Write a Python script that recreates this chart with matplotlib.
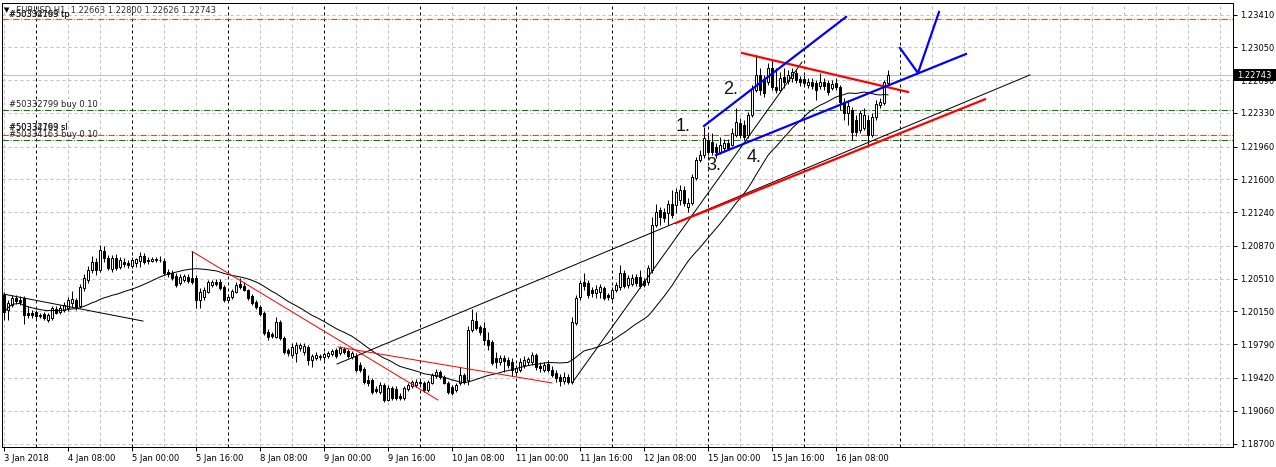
import numpy as np
import pandas as pd
import matplotlib
matplotlib.use('Agg')
import matplotlib.pyplot as plt
from matplotlib.patches import Rectangle

# EURUSD H1 bars, bar 0 = 3 Jan 2018 16:00
opens = [1.2033, 1.2017, 1.2022, 1.2030, 1.2028, 1.2030, 1.2013, 1.2013, 1.2014, 1.2011,
         1.2012, 1.2006, 1.2008, 1.2018, 1.2014, 1.2017, 1.2019, 1.2024, 1.2028, 1.2021,
         1.2041, 1.2050, 1.2060, 1.2069, 1.2060, 1.2081, 1.2074, 1.2062, 1.2074, 1.2064,
         1.2069, 1.2068, 1.2065, 1.2068, 1.2070, 1.2076, 1.2071, 1.2070, 1.2073, 1.2071,
         1.2070, 1.2058, 1.2057, 1.2054, 1.2046, 1.2050, 1.2053, 1.2052, 1.2052, 1.2028,
         1.2031, 1.2036, 1.2044, 1.2047, 1.2047, 1.2042, 1.2028, 1.2031, 1.2036, 1.2045,
         1.2043, 1.2039, 1.2032, 1.2025, 1.2020, 1.2013, 1.1992, 1.1990, 1.1987, 1.2003,
         1.1986, 1.1973, 1.1967, 1.1969, 1.1975, 1.1970, 1.1976, 1.1962, 1.1964, 1.1965,
         1.1965, 1.1966, 1.1968, 1.1973, 1.1969, 1.1974, 1.1972, 1.1965, 1.1966, 1.1956,
         1.1952, 1.1940, 1.1940, 1.1930, 1.1927, 1.1934, 1.1918, 1.1931, 1.1930, 1.1922,
         1.1920, 1.1930, 1.1933, 1.1934, 1.1936, 1.1937, 1.1929, 1.1937, 1.1944, 1.1949,
         1.1943, 1.1937, 1.1932, 1.1929, 1.1936, 1.1945, 1.1940, 1.1995, 1.2005, 1.1998,
         1.1997, 1.1984, 1.1981, 1.1964, 1.1960, 1.1964, 1.1962, 1.1960, 1.1949, 1.1951,
         1.1956, 1.1960, 1.1960, 1.1967, 1.1955, 1.1951, 1.1957, 1.1951, 1.1947, 1.1943,
         1.1939, 1.1943, 1.1938, 1.2002, 1.2031, 1.2047, 1.2046, 1.2039, 1.2035, 1.2036,
         1.2041, 1.2033, 1.2030, 1.2039, 1.2042, 1.2057, 1.2044, 1.2045, 1.2053, 1.2053,
         1.2048, 1.2047, 1.2061, 1.2110, 1.2126, 1.2124, 1.2123, 1.2133, 1.2132, 1.2137,
         1.2148, 1.2130, 1.2134, 1.2162, 1.2181, 1.2187, 1.2203, 1.2201, 1.2196, 1.2190,
         1.2194, 1.2200, 1.2198, 1.2209, 1.2222, 1.2220, 1.2209, 1.2231, 1.2258, 1.2275,
         1.2269, 1.2267, 1.2282, 1.2262, 1.2258, 1.2272, 1.2268, 1.2271, 1.2277, 1.2270,
         1.2270, 1.2264, 1.2267, 1.2266, 1.2263, 1.2267, 1.2266, 1.2260, 1.2266, 1.2261,
         1.2245, 1.2233, 1.2236, 1.2225, 1.2214, 1.2217, 1.2225, 1.2209, 1.2229, 1.2242,
         1.2244, 1.22663]
highs = [1.2036, 1.2028, 1.2033, 1.2033, 1.2032, 1.2032, 1.2021, 1.2017, 1.2017, 1.2013,
         1.2014, 1.2013, 1.2021, 1.2021, 1.2022, 1.2025, 1.2031, 1.2038, 1.2030, 1.2045,
         1.2056, 1.2065, 1.2076, 1.2074, 1.2088, 1.2087, 1.2077, 1.2077, 1.2078, 1.2075,
         1.2074, 1.2071, 1.2075, 1.2074, 1.2080, 1.2079, 1.2075, 1.2075, 1.2075, 1.2076,
         1.2074, 1.2062, 1.2061, 1.2057, 1.2056, 1.2056, 1.2056, 1.2081, 1.2055, 1.2041,
         1.2042, 1.2050, 1.2050, 1.2051, 1.2051, 1.2044, 1.2034, 1.2040, 1.2047, 1.2052,
         1.2047, 1.2040, 1.2034, 1.2028, 1.2022, 1.2015, 1.1996, 1.1993, 1.2009, 1.2006,
         1.1988, 1.1975, 1.1980, 1.1982, 1.1980, 1.1980, 1.1978, 1.1968, 1.1971, 1.1968,
         1.1971, 1.1972, 1.1974, 1.1975, 1.1977, 1.1976, 1.1974, 1.1972, 1.1969, 1.1960,
         1.1954, 1.1945, 1.1942, 1.1933, 1.1938, 1.1937, 1.1934, 1.1933, 1.1933, 1.1926,
         1.1933, 1.1936, 1.1940, 1.1941, 1.1941, 1.1939, 1.1940, 1.1947, 1.1952, 1.1951,
         1.1945, 1.1939, 1.1934, 1.1936, 1.1954, 1.1947, 1.1999, 1.2018, 1.2014, 1.2000,
         1.2003, 1.1993, 1.1984, 1.1971, 1.1967, 1.1967, 1.1965, 1.1964, 1.1956, 1.1964,
         1.1966, 1.1965, 1.1971, 1.1969, 1.1960, 1.1960, 1.1962, 1.1955, 1.1951, 1.1946,
         1.1948, 1.1946, 1.2009, 1.2033, 1.2050, 1.2057, 1.2050, 1.2042, 1.2044, 1.2045,
         1.2043, 1.2035, 1.2042, 1.2047, 1.2066, 1.2061, 1.2055, 1.2056, 1.2056, 1.2061,
         1.2052, 1.2066, 1.2119, 1.2133, 1.2130, 1.2129, 1.2137, 1.2148, 1.2151, 1.2154,
         1.2153, 1.2140, 1.2166, 1.2185, 1.2192, 1.2218, 1.2209, 1.2211, 1.2200, 1.2207,
         1.2204, 1.2204, 1.2216, 1.2238, 1.2227, 1.2225, 1.2234, 1.2264, 1.2297, 1.2282,
         1.2275, 1.2288, 1.2291, 1.2282, 1.2278, 1.2282, 1.2280, 1.2282, 1.2280, 1.2274,
         1.2275, 1.2271, 1.2271, 1.2269, 1.2277, 1.2271, 1.2269, 1.2269, 1.2271, 1.2264,
         1.2249, 1.2247, 1.2240, 1.2231, 1.2236, 1.2238, 1.2231, 1.2233, 1.2247, 1.2249,
         1.2269, 1.22800]
lows = [1.2006, 1.2006, 1.2020, 1.2023, 1.2022, 1.2001, 1.2008, 1.2008, 1.2006, 1.2008,
        1.2006, 1.2003, 1.2006, 1.2012, 1.2012, 1.2014, 1.2016, 1.2020, 1.2017, 1.2019,
        1.2037, 1.2046, 1.2057, 1.2055, 1.2058, 1.2069, 1.2061, 1.2058, 1.2061, 1.2062,
        1.2064, 1.2063, 1.2063, 1.2064, 1.2064, 1.2067, 1.2067, 1.2069, 1.2069, 1.2069,
        1.2055, 1.2053, 1.2050, 1.2042, 1.2044, 1.2047, 1.2046, 1.2045, 1.2019, 1.2019,
        1.2028, 1.2035, 1.2042, 1.2043, 1.2039, 1.2025, 1.2025, 1.2029, 1.2035, 1.2040,
        1.2037, 1.2028, 1.2022, 1.2018, 1.2010, 1.1989, 1.1984, 1.1986, 1.1986, 1.1984,
        1.1968, 1.1966, 1.1964, 1.1960, 1.1972, 1.1967, 1.1956, 1.1954, 1.1962, 1.1962,
        1.1962, 1.1964, 1.1966, 1.1964, 1.1967, 1.1968, 1.1964, 1.1963, 1.1949, 1.1948,
        1.1935, 1.1933, 1.1924, 1.1926, 1.1924, 1.1916, 1.1917, 1.1918, 1.1918, 1.1918,
        1.1918, 1.1928, 1.1931, 1.1932, 1.1933, 1.1927, 1.1927, 1.1935, 1.1942, 1.1941,
        1.1935, 1.1924, 1.1923, 1.1927, 1.1934, 1.1935, 1.1934, 1.1993, 1.1995, 1.1989,
        1.1978, 1.1973, 1.1956, 1.1953, 1.1956, 1.1949, 1.1953, 1.1944, 1.1944, 1.1949,
        1.1953, 1.1956, 1.1956, 1.1951, 1.1948, 1.1949, 1.1948, 1.1943, 1.1938, 1.1933,
        1.1935, 1.1935, 1.1935, 1.2000, 1.2028, 1.2039, 1.2030, 1.2031, 1.2030, 1.2030,
        1.2028, 1.2028, 1.2028, 1.2036, 1.2039, 1.2041, 1.2041, 1.2043, 1.2043, 1.2041,
        1.2042, 1.2044, 1.2057, 1.2108, 1.2110, 1.2113, 1.2110, 1.2118, 1.2123, 1.2132,
        1.2131, 1.2124, 1.2132, 1.2159, 1.2179, 1.2184, 1.2187, 1.2187, 1.2184, 1.2188,
        1.2190, 1.2192, 1.2197, 1.2207, 1.2205, 1.2203, 1.2205, 1.2229, 1.2256, 1.2253,
        1.2251, 1.2264, 1.2258, 1.2255, 1.2256, 1.2260, 1.2265, 1.2267, 1.2266, 1.2263,
        1.2263, 1.2260, 1.2259, 1.2247, 1.2259, 1.2258, 1.2253, 1.2258, 1.2258, 1.2236,
        1.2225, 1.2220, 1.2203, 1.2208, 1.2211, 1.2214, 1.2196, 1.2207, 1.2225, 1.2238,
        1.2242, 1.22626]
closes = [1.2014, 1.2024, 1.2030, 1.2026, 1.2025, 1.2011, 1.2011, 1.2011, 1.2010, 1.2010,
          1.2008, 1.2011, 1.2019, 1.2013, 1.2019, 1.2022, 1.2028, 1.2029, 1.2020, 1.2042,
          1.2052, 1.2060, 1.2069, 1.2060, 1.2082, 1.2074, 1.2063, 1.2074, 1.2063, 1.2071,
          1.2067, 1.2066, 1.2071, 1.2073, 1.2076, 1.2069, 1.2070, 1.2073, 1.2071, 1.2072,
          1.2057, 1.2056, 1.2052, 1.2044, 1.2053, 1.2054, 1.2049, 1.2047, 1.2028, 1.2036,
          1.2039, 1.2047, 1.2047, 1.2045, 1.2041, 1.2028, 1.2031, 1.2038, 1.2044, 1.2042,
          1.2039, 1.2030, 1.2024, 1.2020, 1.2012, 1.1991, 1.1987, 1.1988, 1.2003, 1.1986,
          1.1971, 1.1969, 1.1976, 1.1978, 1.1978, 1.1977, 1.1962, 1.1966, 1.1967, 1.1966,
          1.1968, 1.1969, 1.1972, 1.1966, 1.1975, 1.1971, 1.1966, 1.1969, 1.1951, 1.1951,
          1.1938, 1.1937, 1.1927, 1.1928, 1.1934, 1.1918, 1.1931, 1.1920, 1.1920, 1.1920,
          1.1931, 1.1934, 1.1938, 1.1938, 1.1938, 1.1929, 1.1938, 1.1945, 1.1949, 1.1943,
          1.1937, 1.1927, 1.1926, 1.1934, 1.1945, 1.1938, 1.1995, 1.2006, 1.1997, 1.1993,
          1.1984, 1.1978, 1.1958, 1.1960, 1.1964, 1.1961, 1.1956, 1.1951, 1.1953, 1.1960,
          1.1962, 1.1963, 1.1967, 1.1954, 1.1953, 1.1956, 1.1951, 1.1945, 1.1942, 1.1939,
          1.1943, 1.1938, 1.2003, 1.2030, 1.2046, 1.2043, 1.2033, 1.2035, 1.2040, 1.2042,
          1.2030, 1.2031, 1.2039, 1.2044, 1.2057, 1.2043, 1.2052, 1.2052, 1.2046, 1.2043,
          1.2044, 1.2063, 1.2110, 1.2124, 1.2119, 1.2118, 1.2133, 1.2121, 1.2146, 1.2148,
          1.2134, 1.2134, 1.2163, 1.2181, 1.2187, 1.2205, 1.2190, 1.2190, 1.2190, 1.2198,
          1.2200, 1.2194, 1.2211, 1.2223, 1.2209, 1.2207, 1.2231, 1.2259, 1.2275, 1.2258,
          1.2255, 1.2282, 1.2261, 1.2258, 1.2271, 1.2267, 1.2275, 1.2278, 1.2269, 1.2267,
          1.2266, 1.2267, 1.2263, 1.2258, 1.2267, 1.2263, 1.2256, 1.2265, 1.2261, 1.2245,
          1.2233, 1.2241, 1.2212, 1.2212, 1.2233, 1.2231, 1.2209, 1.2229, 1.2243, 1.2245,
          1.2267, 1.22743]

# time axis
tick_bars = [0, 16, 32, 48, 64, 80, 96, 112, 128, 144, 160, 176, 192, 208]
tick_labels = ['3 Jan 2018', '4 Jan 08:00', '5 Jan 00:00', '5 Jan 16:00', '8 Jan 08:00',
               '9 Jan 00:00', '9 Jan 16:00', '10 Jan 08:00', '11 Jan 00:00', '11 Jan 16:00',
               '12 Jan 08:00', '15 Jan 00:00', '15 Jan 16:00', '16 Jan 08:00']
day_start_bars = [8, 32, 56, 80, 104, 128, 152, 176, 200, 224]

# price axis
price_ticks = [1.23410, 1.23050, 1.22690, 1.22330, 1.21960, 1.21600, 1.21240,
               1.20870, 1.20510, 1.20150, 1.19790, 1.19420, 1.19060, 1.18700]
price_labels = ['%.5f' % p for p in price_ticks]
bid = 1.22743

# order levels
tp_level = 1.23358
buy1_level = 1.22362
sl_level = 1.22088
buy2_level = 1.22033

# drawn trend lines: (bar, price) points
black_lines = [[(-0.25, 1.20342), (34.75, 1.20045)],
               [(83.25, 1.19573), (256.5, 1.22747)],
               [(142, 1.19365), (199.5, 1.22889)]]
red_thin_lines = [[(47, 1.2081), (108.5, 1.19178)],
                  [(83.5, 1.1976), (137, 1.19365)]]
red_thick_lines = [[(184.5, 1.22988), (226, 1.2256)],
                   [(168, 1.21122), (245.25, 1.22480)]]
blue_lines = [[(175, 1.22187), (210.5, 1.23384)],
              [(178, 1.21868), (240.5, 1.22977)],
              [(224, 1.23043), (228.5, 1.22768), (233.75, 1.23438)]]
wave_labels = ['1.', '2.', '3.', '4.']
wave_pos = [(169.75, 1.22176), (181.75, 1.22582), (177.5, 1.21758), (187.5, 1.21846)]

W, H = 1276, 467
fig = plt.figure(figsize=(W / 100, H / 100), dpi=100)
ax = fig.add_axes([2 / W, 20 / H, 1231 / W, 444 / H])
ax.set_xlim(-0.5, 307.25)
ax.set_ylim(1.18662, 1.23537)

lw1 = 0.72  # one pixel
dash = (0, (3, 3))

# grid
for b in range(0, 308, 8):
    if b not in day_start_bars:
        ax.axvline(b, color='#c0c0c0', lw=lw1, ls=dash, zorder=0.5)
for p in price_ticks:
    ax.axhline(p, color='#c0c0c0', lw=lw1, ls=dash, zorder=0.5)
for b in day_start_bars:
    ax.axvline(b, color='black', lw=lw1, ls=dash, zorder=0.6)

# order lines
ax.axhline(bid, color='#c0c0c0', lw=lw1, zorder=1)
ax.axhline(tp_level, color='#ff4500', lw=lw1, ls='-.', zorder=1)
ax.axhline(sl_level, color='#ff4500', lw=lw1, ls='-.', zorder=1)
ax.axhline(buy1_level, color='#008000', lw=lw1, ls='-.', zorder=1)
ax.axhline(buy2_level, color='#008000', lw=lw1, ls='-.', zorder=1)

ytr = ax.get_yaxis_transform()
tx = 7 / 1231
for txt, lvl in [('#50332799 tp', tp_level), ('#50334163 tp', tp_level),
                 ('#50332799 buy 0.10', buy1_level),
                 ('#50332799 sl', sl_level + 0.00022), ('#50334163 sl', sl_level + 0.00022),
                 ('#50334163 buy 0.10', buy2_level)]:
    ax.text(tx, lvl + 0.00008, txt, transform=ytr, fontsize=6, color='#202020',
            va='bottom', ha='left', zorder=2)

# candles
x = np.arange(len(closes))
o = np.array(opens)
c = np.array(closes)
up = c >= o
ax.vlines(x, lows, highs, color='black', lw=lw1, zorder=3)
ax.bar(x[up], (c - o)[up], bottom=o[up], width=0.5, color='white',
       edgecolor='black', linewidth=lw1, zorder=4)
ax.bar(x[~up], (c - o)[~up], bottom=o[~up], width=0.5, color='black',
       edgecolor='black', linewidth=lw1, zorder=4)

# moving average
ma = pd.Series(closes).rolling(30, min_periods=1).mean()
ax.plot(x, ma, color='black', lw=lw1, zorder=5)

# trend lines
for ln in black_lines:
    ax.plot([p[0] for p in ln], [p[1] for p in ln], color='black', lw=lw1, zorder=6)
for ln in red_thin_lines:
    ax.plot([p[0] for p in ln], [p[1] for p in ln], color='red', lw=lw1, zorder=6)
for ln in red_thick_lines:
    ax.plot([p[0] for p in ln], [p[1] for p in ln], color='red', lw=1.6, zorder=6)
for ln in blue_lines:
    ax.plot([p[0] for p in ln], [p[1] for p in ln], color='blue', lw=1.6, zorder=6)
for lab, (bx, py) in zip(wave_labels, wave_pos):
    ax.text(bx, py, lab, fontsize=13, family='Liberation Sans', color='#151515',
            ha='center', va='center', zorder=7)

# header
ax.text(5 / 1231, 1 - 7 / 444, '\u25bc', transform=ax.transAxes, fontsize=5,
        va='center', ha='center', color='black')
ax.text(14 / 1231, 1 - 7 / 444, 'EURUSD,H1  1.22663 1.22800 1.22626 1.22743',
        transform=ax.transAxes, fontsize=6, va='center', ha='left', color='#303030')

# axes
ax.yaxis.tick_right()
ax.set_yticks(price_ticks)
ax.set_yticklabels(price_labels)
ax.set_xticks(tick_bars)
ax.set_xticklabels(tick_labels, ha='left')
ax.tick_params(axis='both', direction='out', length=3, width=lw1, labelsize=6,
               pad=2, colors='black')
for s in ax.spines.values():
    s.set_linewidth(lw1)
    s.set_color('black')

# current price box
box_h = 0.00132
ax.add_patch(Rectangle((1.0, bid - box_h / 2), 43 / 1231, box_h, transform=ytr,
                       facecolor='black', edgecolor='none', clip_on=False, zorder=10))
ax.text(1.0 + 4 / 1231, bid, '1.22743', transform=ytr, fontsize=6, color='white',
        va='center', ha='left', zorder=11)

fig.savefig('out.png', dpi=100)
